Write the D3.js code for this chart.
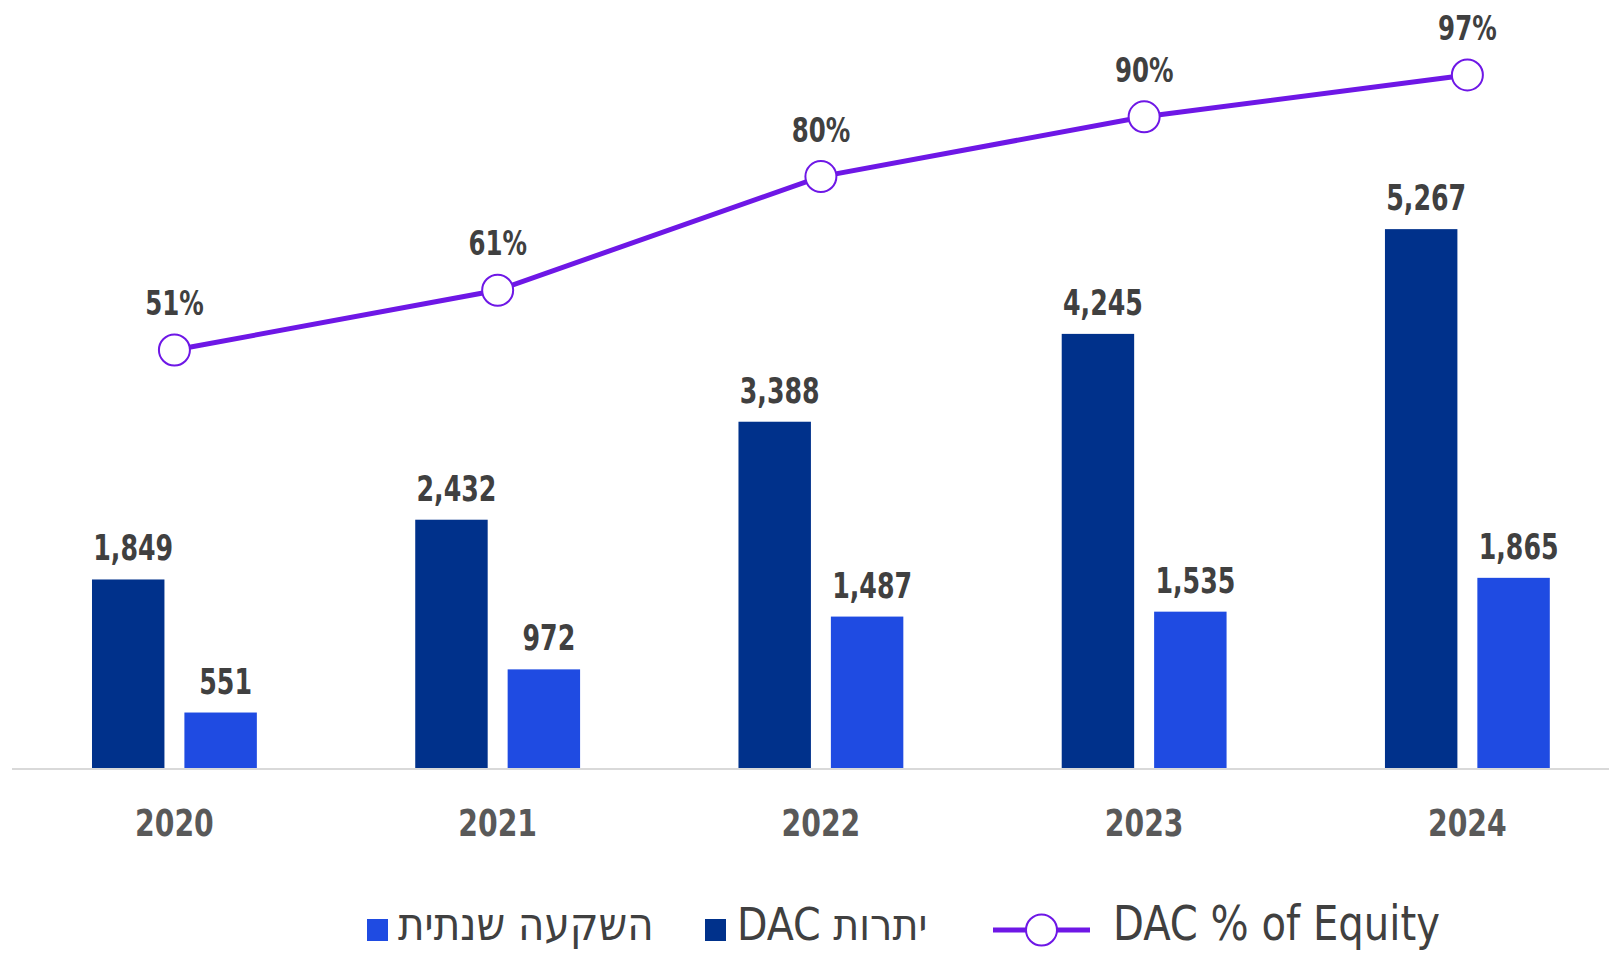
<!DOCTYPE html>
<html>
<head>
<meta charset="utf-8">
<script src="https://cdn.jsdelivr.net/npm/d3@7"></script>
<style>
  body { margin: 0; background: #fff; }
  svg text { font-family: "DejaVu Sans Condensed", "DejaVu Sans", sans-serif; }
</style>
</head>
<body>
<div id="chart"></div>
<script>
// data
const years = ["2020", "2021", "2022", "2023", "2024"];
const balance = [1849, 2432, 3388, 4245, 5267];      // DAC יתרות
const investment = [551, 972, 1487, 1535, 1865];     // השקעה שנתית
const pctEquity = [0.51, 0.61, 0.80, 0.90, 0.97];    // DAC % of Equity
const seriesNames = ["DAC יתרות", "השקעה שנתית", "DAC % of Equity"];

const width = 1609;
const height = 953;
const baseY = 769;

const darkBlue = "#00318B";
const lightBlue = "#1F4BE2";
const purple = "#6E17E6";
const textColor = "#404040";

const svg = d3.select("#chart").append("svg")
  .attr("width", width)
  .attr("height", height);

// scales
const x0 = d3.scaleBand()
  .domain(years)
  .range([12.8, 1629])
  .paddingInner(0.49)
  .paddingOuter(0.245);

const x1 = d3.scaleBand()
  .domain(["balance", "investment"])
  .range([0, x0.bandwidth()])
  .paddingInner(0.216);

const y = d3.scaleLinear()
  .domain([0, 6000])
  .range([baseY, baseY - 6000 * 0.1025]);

const y2 = d3.scaleLinear()
  .domain([0, 1])
  .range([655, 57]);

const rows = years.map((yr, i) => ({
  year: yr, balance: balance[i], investment: investment[i], pct: pctEquity[i]
}));

// bars
const groups = svg.selectAll(".group")
  .data(rows)
  .enter().append("g")
  .attr("class", "group")
  .attr("transform", d => `translate(${x0(d.year)}, 0)`);

const barKeys = [
  { key: "balance", color: darkBlue },
  { key: "investment", color: lightBlue }
];

barKeys.forEach(s => {
  groups.append("rect")
    .attr("x", x1(s.key))
    .attr("width", x1.bandwidth())
    .attr("y", d => y(d[s.key]))
    .attr("height", d => baseY - y(d[s.key]))
    .style("fill", s.color);

  // narrow the labels a bit, the original font is condensed
  groups.append("text")
    .attr("transform", d =>
      `translate(${x1(s.key) + x1.bandwidth() / 2 + 5}, ${y(d[s.key]) - 19}) scale(0.78, 1)`)
    .attr("text-anchor", "middle")
    .style("font-size", "36px")
    .style("font-weight", "bold")
    .style("fill", textColor)
    .text(d => d3.format(",")(d[s.key]));
});

// x axis
const xAxis = svg.append("g")
  .attr("transform", `translate(0, ${baseY})`)
  .call(d3.axisBottom(x0).tickSize(0));
xAxis.select(".domain").remove();
xAxis.append("line")
  .attr("x1", 12).attr("x2", width)
  .attr("y1", 0).attr("y2", 0)
  .style("stroke", "#d9d9d9")
  .style("stroke-width", 2);
xAxis.selectAll(".tick text")
  .attr("y", 0)
  .attr("dy", 0)
  .attr("transform", "translate(0, 67) scale(0.85, 1)")
  .style("font-size", "37px")
  .style("font-weight", "bold")
  .style("fill", "#595959");

// percent line
const cx = d => x0(d.year) + x0.bandwidth() / 2;
svg.append("path")
  .datum(rows)
  .attr("d", d3.line().x(cx).y(d => y2(d.pct)))
  .style("fill", "none")
  .style("stroke", purple)
  .style("stroke-width", 5);

svg.selectAll(".dot")
  .data(rows)
  .enter().append("circle")
  .attr("class", "dot")
  .attr("cx", cx)
  .attr("cy", d => y2(d.pct))
  .attr("r", 15.5)
  .style("fill", "#fff")
  .style("stroke", purple)
  .style("stroke-width", 2);

svg.selectAll(".pct-label")
  .data(rows)
  .enter().append("text")
  .attr("class", "pct-label")
  .attr("transform", d => `translate(${cx(d)}, ${y2(d.pct) - 35}) scale(0.8, 1)`)
  .attr("text-anchor", "middle")
  .style("font-size", "34px")
  .style("font-weight", "bold")
  .style("fill", textColor)
  .text(d => d3.format(".0%")(d.pct));

// legend
const legendY = 930;
const textY = 940;
const legend = svg.append("g").attr("class", "legend");

legend.append("rect")
  .attr("x", 367).attr("y", legendY - 11)
  .attr("width", 21).attr("height", 22)
  .style("fill", lightBlue);
legend.append("text")
  .attr("x", 398).attr("y", textY)
  .style("font-size", "45px")
  .style("fill", textColor)
  .text(seriesNames[1]);

legend.append("rect")
  .attr("x", 705).attr("y", legendY - 11)
  .attr("width", 21).attr("height", 22)
  .style("fill", darkBlue);
legend.append("text")
  .attr("x", 737).attr("y", textY)
  .style("font-size", "44px")
  .style("fill", textColor)
  .text(seriesNames[0]);

legend.append("line")
  .attr("x1", 993).attr("x2", 1090)
  .attr("y1", legendY).attr("y2", legendY)
  .style("stroke", purple)
  .style("stroke-width", 5);
legend.append("circle")
  .attr("cx", 1041.5).attr("cy", legendY)
  .attr("r", 15.5)
  .style("fill", "#fff")
  .style("stroke", purple)
  .style("stroke-width", 2);
legend.append("text")
  .attr("transform", `translate(1113, ${textY}) scale(0.93, 1)`)
  .style("font-size", "48px")
  .style("fill", textColor)
  .text(seriesNames[2]);
</script>
</body>
</html>
